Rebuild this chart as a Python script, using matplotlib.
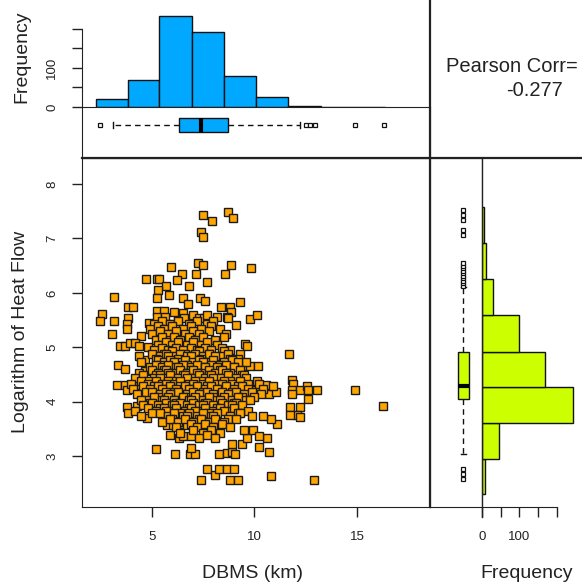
import matplotlib
matplotlib.use("Agg")
import matplotlib.pyplot as plt
from matplotlib.lines import Line2D

# ---- data ----
# histogram of DBMS (top panel)
dbms_breaks = [2.28, 3.85, 5.37, 6.95, 8.52, 10.08, 11.65, 13.22, 14.79, 16.36]
dbms_counts = [20, 68, 232, 192, 80, 25, 3, 1, 1]

# histogram of log heat flow (right panel)
hf_breaks = [2.29, 2.95, 3.60, 4.27, 4.92, 5.59, 6.25, 6.91, 7.57]
hf_counts = [9, 46, 243, 168, 99, 30, 12, 5]

# boxplot summaries
dbms_box = dict(whislo=3.13, q1=6.33, med=7.40, q3=8.70, whishi=12.21,
                fliers=[2.49, 12.49, 12.70, 12.94, 14.89, 16.30])
hf_box = dict(whislo=3.03, q1=4.05, med=4.28, q3=4.91, whishi=6.11,
              fliers=[6.13, 6.18, 6.22, 6.27, 6.31, 6.36, 6.41, 6.45, 6.50, 6.55,
                      7.06, 7.15, 7.34, 7.43, 7.52, 2.58, 2.67, 2.76])

pearson = -0.277

# scatter points: sparse outer points
dbms = [7.48, 8.73, 8.94, 7.95, 7.38, 7.48,
        7.24, 7.51, 8.87, 9.83, 5.94, 8.58, 7.17, 6.46,
        4.72, 5.24, 5.36, 6.21, 6.80, 7.69, 5.71,
        5.32, 5.83, 5.27, 3.18, 6.54, 7.33, 7.59, 6.75, 9.29,
        3.86, 4.11, 8.37, 8.82, 8.84, 8.65,
        5.24, 5.61, 6.10, 2.57, 2.49, 3.18,
        3.86, 3.78, 3.78, 3.09, 4.89,
        5.24, 5.32, 5.65, 5.81, 6.30, 6.54, 6.59,
        6.99, 7.32, 7.56, 7.69, 8.19, 8.73, 9.10, 9.78, 10.11,
        4.48, 3.46, 3.70, 3.94, 4.19, 4.40, 4.84, 5.40,
        3.38, 3.70, 4.67, 5.19, 4.67, 5.57,
        9.54, 9.62, 9.29, 9.21, 9.42, 9.78, 10.19, 11.66,
        3.30, 3.70, 3.78, 4.38, 4.79, 4.84,
        3.78, 3.86, 4.30, 4.79, 5.21,
        5.73, 6.05, 6.46, 6.70,
        5.89, 6.34, 6.54, 6.90,
        6.13, 6.86, 7.11, 6.90,
        7.67, 8.10, 8.29, 8.68, 9.00,
        7.40, 8.81, 9.21,
        8.29, 8.65, 8.89, 9.05, 8.89,
        9.38, 9.62, 9.91, 10.20, 10.72, 10.59, 10.22,
        10.79, 12.89, 14.89, 16.27,
        11.81, 11.89, 11.81, 12.21, 12.54, 12.62, 13.02, 12.62, 12.21, 11.73,
        11.81, 12.05, 12.21, 11.73,
        10.56, 10.72, 11.05, 11.08, 10.79, 10.40, 10.19, 9.86, 9.78]
heat_flow = [7.43, 7.49, 7.38, 7.32, 7.12, 7.02,
             6.54, 6.51, 6.51, 6.46, 6.47, 6.34, 6.35, 6.34,
             6.25, 6.26, 6.26, 6.23, 6.12, 6.20, 6.12,
             6.05, 5.96, 5.91, 5.92, 5.91, 5.91, 5.85, 5.79, 5.84,
             5.74, 5.74, 5.74, 5.74, 5.65, 5.56,
             5.67, 5.67, 5.65, 5.61, 5.48, 5.48,
             5.53, 5.43, 5.34, 5.25, 5.45,
             5.56, 5.40, 5.56, 5.43, 5.48, 5.62, 5.53,
             5.59, 5.53, 5.54, 5.59, 5.56, 5.54, 5.40, 5.51, 5.60,
             5.20, 5.03, 5.03, 5.07, 5.08, 5.03, 5.00, 5.00,
             4.67, 4.59, 4.77, 4.79, 4.56, 4.79,
             5.05, 5.03, 4.88, 4.78, 4.66, 4.65, 4.65, 4.88,
             4.30, 4.30, 4.21, 4.30, 4.16, 4.04,
             3.90, 3.78, 3.92, 3.70, 3.13,
             3.56, 3.56, 3.59, 3.56,
             3.39, 3.33, 3.36, 3.36,
             3.04, 3.04, 3.04, 3.15,
             2.76, 2.64, 2.76, 2.76, 2.76,
             2.55, 2.55, 2.55,
             3.04, 3.05, 3.07, 3.04, 3.22,
             3.22, 3.33, 3.47, 3.16, 3.08, 3.33, 3.37,
             2.63, 2.55, 4.22, 3.91,
             4.39, 4.32, 4.21, 4.21, 4.28, 4.21, 4.21, 4.05, 3.90, 3.90,
             4.14, 3.75, 3.71, 3.75,
             4.30, 4.14, 4.18, 3.59, 3.68, 3.73, 4.25, 4.21, 4.08]

# dense core, read row by row (row value -> DBMS values along it)
core_rows = {
    5.45: [5.1, 5.5, 5.9, 6.3, 6.8, 7.2, 7.7, 8.0],
    5.36: [4.9, 5.3, 5.6, 6.0, 6.5, 6.9, 7.4, 7.9, 8.3],
    5.26: [5.0, 5.4, 5.8, 6.2, 6.6, 7.0, 7.3, 7.8, 8.6],
    5.15: [5.2, 5.5, 5.9, 6.1, 6.4, 6.8, 7.1, 7.5, 8.1, 8.5],
    5.06: [5.3, 5.7, 6.0, 6.3, 6.7, 7.0, 7.4, 7.7, 8.2],
    4.96: [5.1, 5.5, 5.8, 6.2, 6.5, 6.9, 7.2, 7.6, 7.9, 8.4, 8.8],
    4.90: [5.6, 6.0, 6.6, 7.3, 7.8, 8.5],
    4.85: [4.4, 5.0, 5.4, 5.7, 6.1, 6.4, 6.7, 7.1, 7.5, 7.8, 8.3, 8.7],
    4.80: [5.2, 5.8, 6.3, 6.9, 7.4, 8.1, 8.8],
    4.74: [4.5, 5.3, 5.6, 5.9, 6.3, 6.6, 7.0, 7.3, 7.7, 8.0, 8.5, 8.9, 9.6],
    4.70: [5.4, 6.1, 6.7, 7.5, 8.3, 9.2],
    4.65: [4.9, 5.2, 5.5, 5.8, 6.2, 6.5, 6.9, 7.2, 7.6, 7.9, 8.2, 8.6, 9.0],
    4.60: [5.6, 6.3, 6.9, 7.6, 8.3, 9.0],
    4.55: [4.4, 5.0, 5.3, 5.7, 6.0, 6.4, 6.7, 7.0, 7.4, 7.8, 8.1, 8.4, 8.8, 9.3],
    4.50: [5.2, 5.8, 6.5, 7.2, 7.8, 8.6, 9.4],
    4.45: [4.2, 4.6, 5.1, 5.4, 5.6, 5.9, 6.3, 6.6, 6.9, 7.3, 7.6, 7.9, 8.3, 8.7, 9.1, 9.5],
    4.40: [4.8, 5.4, 6.0, 6.7, 7.4, 8.0, 8.8, 9.6],
    4.35: [4.0, 4.5, 4.8, 5.2, 5.5, 5.8, 6.1, 6.4, 6.8, 7.1, 7.5, 7.8, 8.2, 8.5, 8.9, 9.3, 9.7, 10.1],
    4.30: [5.1, 5.7, 6.4, 7.0, 7.7, 8.4, 9.2, 10.2],
    4.25: [4.1, 4.6, 4.9, 5.3, 5.6, 5.9, 6.2, 6.6, 6.9, 7.2, 7.6, 7.9, 8.3, 8.6, 9.0, 9.4, 10.4, 10.9],
    4.20: [4.7, 5.5, 6.1, 6.8, 7.5, 8.2, 8.9, 9.7],
    4.15: [4.3, 5.0, 5.4, 5.7, 6.0, 6.3, 6.7, 7.0, 7.4, 7.7, 8.0, 8.4, 8.8, 9.1, 9.5, 9.9, 10.3],
    4.10: [5.3, 5.9, 6.6, 7.3, 8.0, 8.7, 9.4],
    4.05: [4.5, 5.1, 5.5, 5.8, 6.1, 6.5, 6.8, 7.1, 7.5, 7.8, 8.2, 8.5, 8.9, 9.2, 9.6, 10.0],
    4.00: [4.9, 5.6, 6.2, 6.9, 7.6, 8.3, 9.0, 9.8],
    3.95: [4.6, 5.0, 5.3, 5.7, 6.0, 6.4, 6.7, 7.0, 7.3, 7.7, 8.0, 8.4, 8.7, 9.1, 9.4],
    3.90: [5.4, 6.1, 6.8, 7.5, 8.2, 8.9],
    3.85: [4.2, 4.8, 5.2, 5.6, 5.9, 6.2, 6.6, 6.9, 7.3, 7.6, 8.0, 8.3, 8.6, 9.0, 9.7],
    3.80: [5.0, 5.7, 6.4, 7.1, 7.8, 8.5, 9.2],
    3.75: [4.5, 5.4, 5.8, 6.1, 6.5, 6.8, 7.2, 7.5, 7.9, 8.2, 8.8, 9.3, 9.9],
    3.70: [6.0, 6.7, 7.3, 8.0, 8.7],
    3.65: [5.5, 5.9, 6.3, 6.6, 7.0, 7.4, 7.8, 8.1, 8.5, 9.1],
    3.55: [6.2, 6.9, 7.2, 7.6, 8.0, 8.4, 8.8],
    3.45: [6.4, 7.0, 7.5, 7.9, 8.3, 9.5],
    3.35: [7.3, 7.7, 8.1],
}
for yv, xs in core_rows.items():
    for i, xv in enumerate(xs):
        dbms.append(xv)
        heat_flow.append(yv + (0.03 if i % 2 else -0.02))

# ---- layout (pixel boxes of the 582x586 reference) ----
W, H = 582, 586


def box(x0, y0, x1, y1):
    return [x0 / W, 1 - y1 / H, (x1 - x0) / W, (y1 - y0) / H]


def pt(x, y):
    return x / W, 1 - y / H


BLUE = "#00A9FF"
GREEN = "#CCFF00"
ORANGE = "#FFA500"
INK = "#222222"
xlim = (1.61, 18.54)
ylim = (2.06, 8.48)

plt.rcParams["font.family"] = ["Liberation Sans", "DejaVu Sans"]
plt.rcParams["axes.edgecolor"] = INK
plt.rcParams["xtick.color"] = INK
plt.rcParams["ytick.color"] = INK

fig = plt.figure(figsize=(5.82, 5.86), dpi=100)

# main scatter
ax = fig.add_axes(box(82, 158, 430, 507))
ax.plot(dbms, heat_flow, ls="none", marker="s", ms=5.2, mfc=ORANGE,
        mec="#1a1a1a", mew=1.0)
ax.set_xlim(xlim)
ax.set_ylim(ylim)
ax.set_xticks([5, 10, 15])
ax.set_yticks([3, 4, 5, 6, 7, 8])
ax.tick_params(length=7, width=1, labelsize=9.5, pad=10)
for lab in ax.get_yticklabels():
    lab.set_rotation(90)
    lab.set_va("center")

# top histogram
axh = fig.add_axes(box(82, 5, 430, 107))
axh.bar(dbms_breaks[:-1], dbms_counts,
        width=[b - a for a, b in zip(dbms_breaks[:-1], dbms_breaks[1:])],
        align="edge", color=BLUE, edgecolor="#111111", lw=1)
axh.set_xlim(xlim)
axh.set_ylim(0, 261)
for s in ["top", "right", "bottom"]:
    axh.spines[s].set_visible(False)
axh.spines["left"].set_bounds(0, 200)
axh.set_xticks([])
axh.set_yticks([0, 50, 100, 150, 200], ["0", "", "100", "", ""])
axh.tick_params(axis="y", length=7, width=1, labelsize=9.5, pad=10)
for lab in axh.get_yticklabels():
    lab.set_rotation(90)
    lab.set_va("center")

# top boxplot
axb = fig.add_axes(box(82, 107, 430, 158))
axb.bxp([dbms_box], positions=[0.647], widths=0.263, vert=False,
        patch_artist=True, capwidths=0.13, showfliers=True,
        boxprops=dict(facecolor=BLUE, edgecolor="#111111", lw=1),
        medianprops=dict(color="black", lw=3, solid_capstyle="butt"),
        whiskerprops=dict(color="#111111", lw=1, ls=(0, (4, 3))),
        capprops=dict(color="#111111", lw=1),
        flierprops=dict(marker="s", ms=3.5, mfc="white", mec="#111111", mew=0.9))
axb.set_xlim(xlim)
axb.set_ylim(0, 1)
axb.set_xticks([])
axb.set_yticks([])

# right boxplot
axrb = fig.add_axes(box(430, 158, 482, 507))
axrb.bxp([hf_box], positions=[0.644], widths=0.223, vert=True,
         patch_artist=True, capwidths=0.11, showfliers=True,
         boxprops=dict(facecolor=GREEN, edgecolor="#111111", lw=1),
         medianprops=dict(color="black", lw=3, solid_capstyle="butt"),
         whiskerprops=dict(color="#111111", lw=1, ls=(0, (4, 3))),
         capprops=dict(color="#111111", lw=1),
         flierprops=dict(marker="s", ms=3.5, mfc="white", mec="#111111", mew=0.9))
axrb.set_ylim(ylim)
axrb.set_xlim(0, 1)
axrb.set_xticks([])
axrb.set_yticks([])

# right histogram
axrh = fig.add_axes(box(482, 158, 580, 507))
axrh.barh(hf_breaks[:-1], hf_counts,
          height=[b - a for a, b in zip(hf_breaks[:-1], hf_breaks[1:])],
          align="edge", color=GREEN, edgecolor="#111111", lw=1)
axrh.set_ylim(ylim)
axrh.set_xlim(0, 262.6)
for s in ["top", "right", "left"]:
    axrh.spines[s].set_visible(False)
axrh.spines["bottom"].set_bounds(0, 200)
axrh.set_yticks([])
axrh.set_xticks([0, 50, 100, 150, 200], ["0", "", "100", "", ""])
axrh.tick_params(axis="x", length=7, width=1, labelsize=9.5, pad=10)

# panel dividers
fig.add_artist(Line2D([430 / W, 430 / W], [1, 1 - 507 / H], color=INK, lw=1.6,
                      transform=fig.transFigure))
fig.add_artist(Line2D([82 / W, 1], [1 - 158 / H, 1 - 158 / H], color=INK, lw=1.6,
                      transform=fig.transFigure))
fig.add_artist(Line2D([482 / W, 482 / W], [1 - 158 / H, 1 - 517 / H], color=INK,
                      lw=1, transform=fig.transFigure))

# labels
fig.text(*pt(21, 332), "Logarithm of Heat Flow", rotation=90, ha="center",
         va="center", fontsize=14, color=INK)
fig.text(*pt(22, 57), "Frequency", rotation=90, ha="center", va="center",
         fontsize=14, color=INK)
fig.text(*pt(253, 573), "DBMS (km)", ha="center", va="center", fontsize=14,
         color=INK)
fig.text(*pt(527, 573), "Frequency", ha="center", va="center", fontsize=14,
         color=INK)
fig.text(*pt(446, 67), "Pearson Corr=", ha="left", va="center", fontsize=14.5,
         color=INK)
fig.text(*pt(506, 90), f"{pearson:.3f}", ha="left", va="center", fontsize=14.5,
         color=INK)

fig.savefig("out.png", dpi=100)
